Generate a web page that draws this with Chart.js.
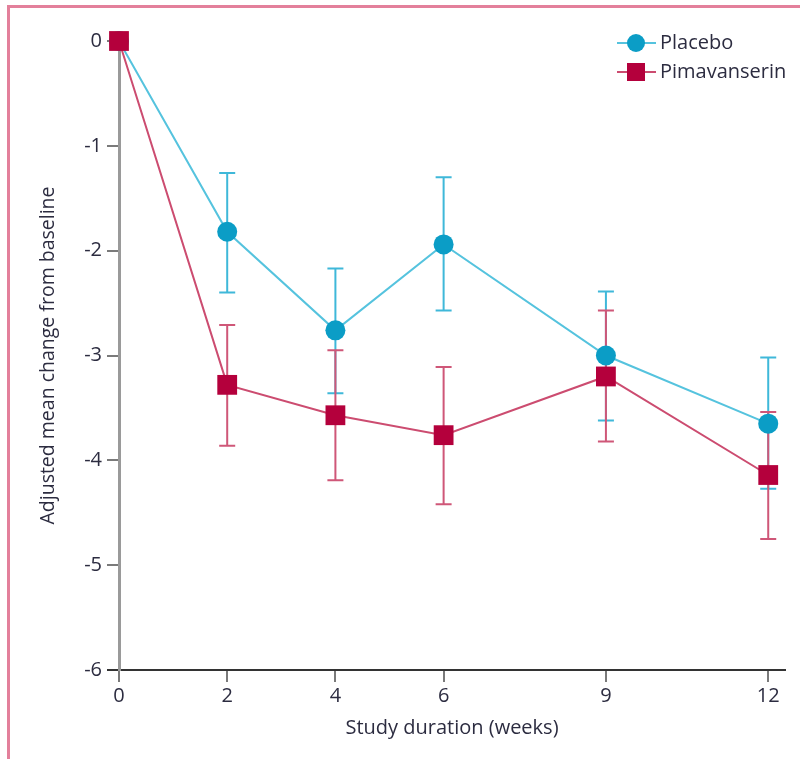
<!DOCTYPE html>
<html>
<head>
<meta charset="utf-8">
<script src="https://cdn.jsdelivr.net/npm/chart.js@4/dist/chart.umd.min.js"></script>
<style>
  html, body { margin: 0; padding: 0; background: #fff; }
  #wrap { position: relative; width: 800px; height: 759px; }
  #frame { position: absolute; left: 7px; top: 5px; right: 0; bottom: 0;
           border-left: 3px solid #e3809b; border-top: 3px solid #e3809b; pointer-events: none; }
  canvas { position: absolute; left: 0; top: 0; }
</style>
</head>
<body>
<div id="wrap">
  <canvas id="c" width="800" height="759"></canvas>
  <div id="frame"></div>
</div>
<script>
// ---- data ----
const weeks = [0, 2, 4, 6, 9, 12];
const xTickValues = [0, 2, 4, 6, 9, 12];
const yTickValues = [0, -1, -2, -3, -4, -5, -6];

const placeboMean = [0, -1.82, -2.76, -1.94, -3.00, -3.65];
const placeboLow  = [0, -2.40, -3.36, -2.57, -3.62, -4.27];
const placeboHigh = [0, -1.26, -2.17, -1.30, -2.39, -3.02];

const pimaMean = [0, -3.28, -3.57, -3.76, -3.20, -4.14];
const pimaLow  = [0, -3.86, -4.19, -4.42, -3.82, -4.75];
const pimaHigh = [0, -2.71, -2.95, -3.11, -2.57, -3.54];

const seriesNames = ['Placebo', 'Pimavanserin'];

// ---- styles ----
const FONT = '"Open Sans", "Liberation Sans", sans-serif';
const TEXT = '#2c2c40';
const cyanLine = '#55c3de', cyanMark = '#0b9dc6', cyanErr = '#3fb8d9';
const pinkLine = '#cc4c70', pinkMark = '#b4003c', pinkErr = '#cf5778';

function pts(means) { return weeks.map((w, i) => ({ x: w, y: means[i] })); }

const errorBars = {
  id: 'errorBars',
  beforeDatasetsDraw(chart) {
    const { ctx, scales: { x, y } } = chart;
    const sets = [
      { lo: placeboLow, hi: placeboHigh, color: cyanErr },
      { lo: pimaLow, hi: pimaHigh, color: pinkErr }
    ];
    ctx.save();
    ctx.lineWidth = 2;
    sets.forEach(s => {
      ctx.strokeStyle = s.color;
      weeks.forEach((w, i) => {
        if (s.lo[i] === s.hi[i]) return;
        const px = x.getPixelForValue(w);
        const y1 = y.getPixelForValue(s.hi[i]);
        const y2 = y.getPixelForValue(s.lo[i]);
        ctx.beginPath();
        ctx.moveTo(px, y1); ctx.lineTo(px, y2);
        ctx.moveTo(px - 8, y1); ctx.lineTo(px + 8, y1);
        ctx.moveTo(px - 8, y2); ctx.lineTo(px + 8, y2);
        ctx.stroke();
      });
    });
    ctx.restore();
  }
};

const customLegend = {
  id: 'customLegend',
  afterDraw(chart) {
    const { ctx } = chart;
    const items = [
      { name: seriesNames[0], line: cyanLine, mark: cyanMark, style: 'circle' },
      { name: seriesNames[1], line: pinkLine, mark: pinkMark, style: 'rect' }
    ];
    ctx.save();
    items.forEach((it, i) => {
      const cy = 43 + i * 29;
      ctx.strokeStyle = it.line; ctx.lineWidth = 2;
      ctx.beginPath(); ctx.moveTo(617, cy); ctx.lineTo(656, cy); ctx.stroke();
      ctx.fillStyle = it.mark;
      if (it.style === 'circle') {
        ctx.beginPath(); ctx.arc(636, cy, 9, 0, Math.PI * 2); ctx.fill();
      } else {
        ctx.fillRect(627, cy - 9, 18, 18);
      }
      ctx.fillStyle = TEXT;
      ctx.font = '20px ' + FONT;
      ctx.textBaseline = 'middle';
      ctx.textAlign = 'left';
      ctx.fillText(it.name, 660, cy);
    });
    ctx.restore();
  }
};

new Chart(document.getElementById('c'), {
  type: 'line',
  data: {
    datasets: [
      {
        label: seriesNames[1], data: pts(pimaMean),
        borderColor: pinkLine, borderWidth: 2,
        pointStyle: 'rect', pointRadius: 14, pointHoverRadius: 14,
        pointBackgroundColor: pinkMark, pointBorderWidth: 0,
        clip: false, tension: 0
      },
      {
        label: seriesNames[0], data: pts(placeboMean),
        borderColor: cyanLine, borderWidth: 2,
        pointStyle: 'circle', pointRadius: 10, pointHoverRadius: 10,
        pointBackgroundColor: cyanMark, pointBorderWidth: 0,
        clip: false, tension: 0
      }
    ]
  },
  options: {
    responsive: false,
    animation: false,
    events: [],
    layout: { padding: { top: 41, right: 15, left: 0, bottom: 0 } },
    plugins: { legend: { display: false }, tooltip: { enabled: false } },
    scales: {
      x: {
        type: 'linear', min: 0, max: 12.31,
        afterFit(s) { s.height = 89; },
        afterBuildTicks(s) { s.ticks = xTickValues.map(v => ({ value: v })); },
        grid: { drawOnChartArea: false, drawTicks: true, tickLength: 12, color: '#7a7a7a', lineWidth: 2 },
        border: { display: true, color: '#333', width: 2 },
        ticks: { color: TEXT, font: { family: FONT, size: 20 }, padding: 2, maxRotation: 0, autoSkip: false },
        title: { display: true, text: 'Study duration (weeks)', color: TEXT,
                 font: { family: FONT, size: 20 }, padding: { top: 0, bottom: 19 } }
      },
      y: {
        type: 'linear', min: -6, max: 0,
        afterFit(s) { s.width = 119; },
        afterBuildTicks(s) { s.ticks = yTickValues.map(v => ({ value: v })); },
        grid: { drawOnChartArea: false, drawTicks: true, tickLength: 12,
                color: c => (c.tick && c.tick.value === -6) ? '#333' : '#7a7a7a', lineWidth: 2 },
        border: { display: true, color: '#9a9a9a', width: 3 },
        ticks: { color: TEXT, font: { family: FONT, size: 20 }, padding: 5 },
        title: { display: true, text: 'Adjusted mean change from baseline', color: TEXT,
                 font: { family: FONT, size: 19.5 }, padding: { top: 37, bottom: 0 } }
      }
    }
  },
  plugins: [errorBars, customLegend]
});
</script>
</body>
</html>
